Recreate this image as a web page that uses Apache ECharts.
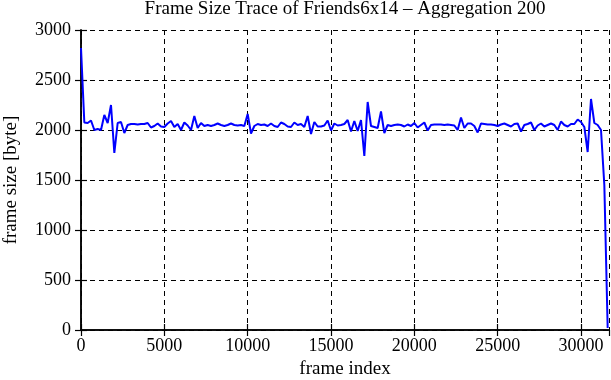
<!DOCTYPE html>
<html>
<head>
<meta charset="utf-8">
<script src="https://cdn.jsdelivr.net/npm/echarts@6/dist/echarts.min.js"></script>
<style>
  html, body { margin: 0; padding: 0; background: #fff; }
  #chart { width: 611px; height: 380px; }
</style>
</head>
<body>
<div id="chart"></div>
<script>
// one value per aggregated block of 200 frames
const step = 200
const frameSizes = [
  2820, 2075, 2070, 2095, 2000, 2010, 2000, 2150, 2070, 2250,
  1770, 2070, 2080, 1970, 2050, 2060, 2060, 2055, 2060, 2060,
  2070, 2025, 2040, 2065, 2035, 2030, 2065, 2090, 2030, 2060,
  2000, 2075, 2045, 2000, 2140, 2020, 2070, 2040, 2050, 2040,
  2050, 2065, 2050, 2040, 2050, 2065, 2050, 2045, 2050, 2040,
  2160, 1965, 2040, 2060, 2050, 2055, 2040, 2065, 2040, 2030,
  2075, 2060, 2035, 2030, 2075, 2050, 2060, 2030, 2140, 1960,
  2080, 2035, 2035, 2045, 2095, 1995, 2065, 2045, 2050, 2060,
  2100, 1985, 2090, 1990, 2100, 1740, 2280, 2040, 2030, 2020,
  2185, 1970, 2050, 2040, 2050, 2055, 2050, 2035, 2055, 2040,
  2070, 2025, 2050, 2075, 1995, 2050, 2055, 2055, 2055, 2050,
  2055, 2050, 2045, 2000, 2125, 2020, 2065, 2065, 2040, 1975,
  2065, 2060, 2055, 2055, 2050, 2040, 2055, 2065, 2050, 2035,
  2060, 2065, 1985, 2050, 2060, 2075, 2000, 2045, 2065, 2035,
  2050, 2065, 2050, 2000, 2085, 2050, 2035, 2060, 2060, 2105,
  2080, 2030, 1780, 2310, 2070, 2050, 2000, 1450, 20
]
const xMax = 31680
const xTicks = [0, 5000, 10000, 15000, 20000, 25000, 30000]
const yTicks = [0, 500, 1000, 1500, 2000, 2500, 3000]

const points = frameSizes.map((v, i) => [i * step, v])

const font = 'Liberation Serif'
const chart = echarts.init(document.getElementById('chart'), null, { renderer: 'canvas' })

const frameAxis = {
  type: 'value',
  min: 0,
  max: xMax,
  interval: 5000,
  axisLine: { show: true, lineStyle: { color: '#000', width: 1.5 } },
  axisTick: { show: true, inside: true, length: 6, lineStyle: { color: '#000', width: 1.2 } }
}
const sizeAxis = {
  type: 'value',
  min: 0,
  max: 3000,
  interval: 500,
  axisLine: { show: true, lineStyle: { color: '#000', width: 1.5 } },
  axisTick: { show: true, inside: true, length: 6, lineStyle: { color: '#000', width: 1.2 } }
}

chart.setOption({
  animation: false,
  title: {
    text: 'Frame Size Trace of Friends6x14 – Aggregation 200',
    left: 345,
    top: 0,
    padding: 0,
    textAlign: 'center',
    textStyle: { fontFamily: font, fontSize: 19, fontWeight: 'normal', color: '#000' }
  },
  grid: { left: 81, right: 2, top: 30, bottom: 50, outerBoundsMode: 'none' },
  xAxis: [
    Object.assign({}, frameAxis, {
      position: 'bottom',
      name: 'frame index',
      nameLocation: 'middle',
      nameGap: 29,
      nameTextStyle: { fontFamily: font, fontSize: 19, color: '#000' },
      axisLabel: {
        fontFamily: font, fontSize: 18, color: '#000', margin: 7,
        showMaxLabel: false,
        formatter: v => xTicks.indexOf(v) >= 0 ? String(v) : ''
      },
      splitLine: { show: true, lineStyle: { color: '#000', type: [5, 4], width: 1 } }
    }),
    Object.assign({}, frameAxis, {
      position: 'top',
      axisLabel: { show: false },
      splitLine: { show: false }
    })
  ],
  yAxis: [
    Object.assign({}, sizeAxis, {
      position: 'left',
      name: 'frame size [byte]',
      nameLocation: 'middle',
      nameGap: 60,
      nameTextStyle: { fontFamily: font, fontSize: 19, color: '#000' },
      axisLabel: {
        fontFamily: font, fontSize: 18, color: '#000', margin: 10,
        formatter: v => yTicks.indexOf(v) >= 0 ? String(v) : ''
      },
      splitLine: { show: true, lineStyle: { color: '#000', type: [5, 4], width: 1 } }
    }),
    Object.assign({}, sizeAxis, {
      position: 'right',
      axisLabel: { show: false },
      splitLine: { show: false }
    })
  ],
  series: [
    {
      type: 'line',
      xAxisIndex: 0,
      yAxisIndex: 0,
      data: points,
      showSymbol: false,
      lineStyle: { color: '#0000ff', width: 2 },
      itemStyle: { color: '#0000ff' }
    }
  ]
})
</script>
</body>
</html>
